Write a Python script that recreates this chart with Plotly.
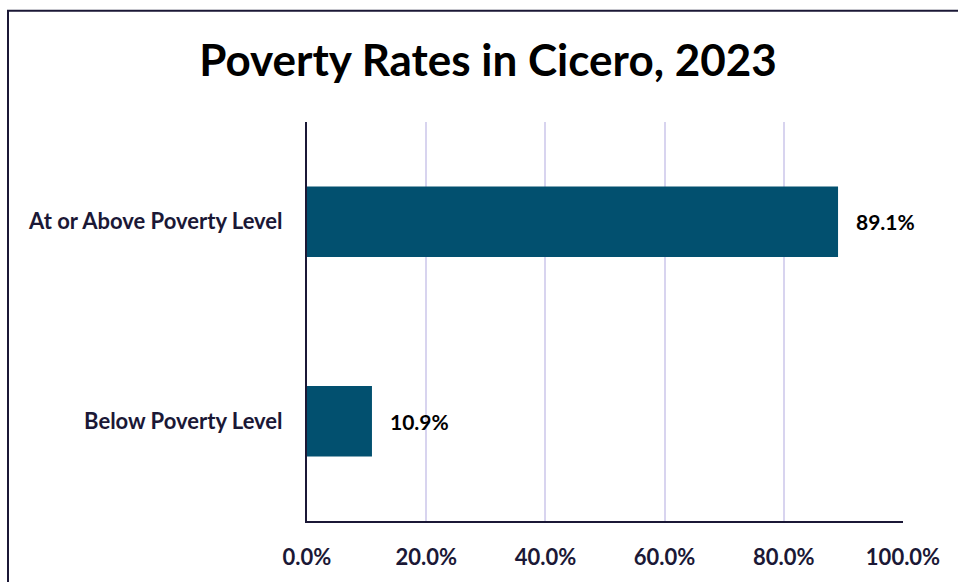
import plotly.graph_objects as go

# Poverty status shares, Cicero 2023 (percent of population)
categories = ["At or Above Poverty Level", "Below Poverty Level"]
shares = [89.1, 10.9]
tick_values = [0, 20, 40, 60, 80, 100]

W, H = 958, 582
M_L, M_R, M_T, M_B = 307, 55, 122, 58
plot_w = W - M_L - M_R
plot_h = H - M_T - M_B

BAR = "#02506f"
INK = "#1b1836"
GRID = "#d8d4ef"
FONT = "Lato"

fig = go.Figure(
    go.Bar(
        x=shares,
        y=categories,
        orientation="h",
        marker=dict(color=BAR, line=dict(width=0)),
        hoverinfo="skip",
    )
)

# value labels to the right of each bar
for cat, v in zip(categories, shares):
    fig.add_annotation(
        x=v, y=cat, xref="x", yref="y",
        text=f"<b>{v:.1f}%</b>", showarrow=False,
        xanchor="left", yanchor="middle", xshift=16,
        font=dict(family=FONT, size=21, color="#000000"),
    )

# outer frame (left and top edges visible)
fig.add_shape(
    type="rect", xref="paper", yref="paper",
    x0=(8 - M_L) / plot_w, x1=(W + 40 - M_L) / plot_w,
    y0=-(M_B + 40) / plot_h, y1=(H - 10 - M_B) / plot_h,
    line=dict(color=INK, width=2), fillcolor="rgba(0,0,0,0)", layer="below",
)

fig.update_layout(
    width=W, height=H,
    margin=dict(l=M_L, r=M_R, t=M_T, b=M_B, pad=0),
    paper_bgcolor="white", plot_bgcolor="white",
    bargap=0.647,
    showlegend=False,
    title=dict(
        text="<b>Poverty Rates in Cicero, 2023</b>",
        x=488 / W, xanchor="center", y=1 - 61 / H, yanchor="middle",
        font=dict(family=FONT, size=44, color="#000000"),
    ),
    xaxis=dict(
        range=[0, 100], tickvals=tick_values,
        ticktext=[f"<b>{t:.1f}%</b>" for t in tick_values],
        showgrid=True, gridcolor=GRID, gridwidth=2,
        zeroline=False, showline=True, linecolor=INK, linewidth=2,
        ticks="", ticklabelstandoff=16,
        tickfont=dict(family=FONT, size=22, color=INK),
        fixedrange=True,
    ),
    yaxis=dict(
        categoryorder="array", categoryarray=categories[::-1],
        showgrid=False, zeroline=False,
        showline=True, linecolor=INK, linewidth=2,
        ticks="", ticklabelstandoff=18,
        tickfont=dict(family=FONT, size=22, color=INK),
        tickprefix="<b>", ticksuffix="</b>",
        fixedrange=True,
    ),
)

fig.write_html("out.html")
